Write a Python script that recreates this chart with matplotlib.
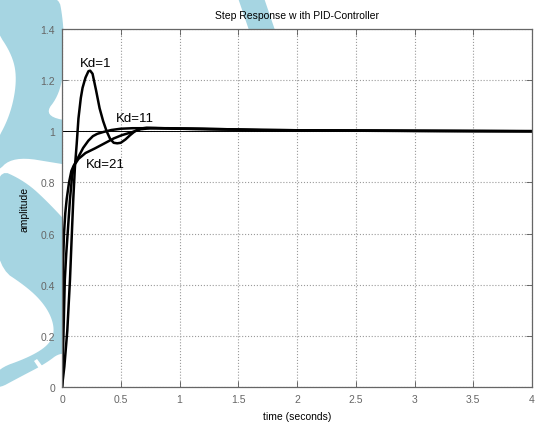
"""Step response of a PID-controlled plant for three derivative gains."""

import matplotlib

matplotlib.use("Agg")
import matplotlib.pyplot as plt
from matplotlib.patches import Polygon

# values
t_kd1 = [0, 0.02, 0.045, 0.068, 0.082, 0.096, 0.11, 0.125, 0.14, 0.16, 0.175, 0.2, 0.225, 0.24,
         0.26, 0.29, 0.32, 0.35, 0.38, 0.41, 0.44, 0.47, 0.5, 0.54, 0.58, 0.62, 0.66, 0.72, 0.8,
         1.0, 1.4, 1.7, 2.4, 4.0]
y_kd1 = [0, 0.08, 0.22, 0.42, 0.58, 0.735, 0.86, 0.95, 1.05, 1.13, 1.17, 1.21, 1.235, 1.237,
         1.225, 1.16, 1.09, 1.04, 1.0, 0.97, 0.955, 0.953, 0.955, 0.968, 0.985, 1.0, 1.01, 1.014,
         1.013, 1.01, 1.008, 1.004, 1.003, 1.0]

t_kd11 = [0, 0.012, 0.024, 0.036, 0.048, 0.068, 0.085, 0.1, 0.115, 0.14, 0.18, 0.224, 0.263,
          0.3, 0.35, 0.42, 0.5, 0.6, 0.8, 1.0, 1.5, 2.0, 3.0, 4.0]
y_kd11 = [0, 0.2, 0.42, 0.52, 0.6, 0.735, 0.82, 0.86, 0.88, 0.9, 0.935, 0.963, 0.981,
          0.99, 0.997, 1.005, 1.01, 1.012, 1.012, 1.01, 1.006, 1.004, 1.002, 1.001]

t_kd21 = [0, 0.005, 0.01, 0.017, 0.028, 0.04, 0.06, 0.08, 0.1, 0.12, 0.14, 0.2, 0.28, 0.35,
          0.44, 0.51, 0.585, 0.67, 0.75, 0.9, 1.2, 1.6, 2.2, 3.0, 4.0]
y_kd21 = [0, 0.3, 0.5, 0.6, 0.68, 0.735, 0.8, 0.845, 0.866, 0.878, 0.892, 0.915, 0.933, 0.95,
          0.972, 0.985, 0.995, 1.008, 1.012, 1.012, 1.01, 1.006, 1.003, 1.001, 1.0]

labels = ["Kd=1", "Kd=11", "Kd=21"]
label_t = [0.283, 0.624, 0.368]
label_y = [1.266, 1.05, 0.871]

x_ticks = [0, 0.5, 1, 1.5, 2, 2.5, 3, 3.5, 4]
y_ticks = [0, 0.2, 0.4, 0.6, 0.8, 1, 1.2, 1.4]

W, H = 539, 427
plt.rcParams["font.family"] = ["Liberation Sans", "DejaVu Sans"]

fig = plt.figure(figsize=(W / 100, H / 100), dpi=100)


def px(points):
    return [(x / W, 1 - y / H) for x, y in points]


def rounded(points, passes=3):
    # chaikin corner cutting, only to soften the decoration outline
    pts = list(points)
    for _ in range(passes):
        out = []
        for i in range(len(pts)):
            (x0, y0), (x1, y1) = pts[i], pts[(i + 1) % len(pts)]
            out.append((0.75 * x0 + 0.25 * x1, 0.75 * y0 + 0.25 * y1))
            out.append((0.25 * x0 + 0.75 * x1, 0.25 * y0 + 0.75 * y1))
        pts = out
    return pts


# light blue background decoration (sits behind the axes)
blue = "#a6d5e2"
upper = [(-6, -6), (58, -6), (63, 20), (65, 60), (60, 95), (43, 117), (80, 124), (80, 168),
         (62, 165), (13, 157), (-6, 176), (-6, 147), (10, 117), (17, 83), (13, 57), (-6, 28)]
lower = [(-6, 168), (25, 182), (50, 205), (80, 238), (80, 362), (62, 352), (45, 365), (20, 378),
         (-6, 392), (-6, 371), (30, 358), (50, 345), (55, 330), (48, 310), (30, 290), (-6, 266)]
top = [(237, -4), (263, -4), (278, 40), (252, 40)]
for shape in (upper, lower):
    fig.patches.append(Polygon(px(rounded(shape)), closed=True, transform=fig.transFigure,
                               facecolor=blue, edgecolor="none", zorder=-1))
fig.patches.append(Polygon(px(top), closed=True, transform=fig.transFigure,
                           facecolor=blue, edgecolor="none", zorder=-1))
fig.patches.append(Polygon(px([(34, 362), (37, 360), (43, 368), (40, 371)]), closed=True,
                           transform=fig.transFigure, facecolor="white", edgecolor="none", zorder=-1))

ax = fig.add_axes([62 / W, 1 - 388 / H, 470 / W, 358 / H])
ax.set_zorder(1)

ax.axhline(1.0, color="black", lw=0.7)
for t, y in ((t_kd1, y_kd1), (t_kd11, y_kd11), (t_kd21, y_kd21)):
    ax.plot(t, y, color="black", lw=1.8, solid_joinstyle="round")
for text, tx, ty in zip(labels, label_t, label_y):
    ax.text(tx, ty, text, fontsize=9.5, ha="center", va="center")

ax.set_xlim(0, 4)
ax.set_ylim(0, 1.4)
ax.set_xticks(x_ticks)
ax.set_xticklabels([f"{v:g}" for v in x_ticks])
ax.set_yticks(y_ticks)
ax.set_yticklabels([f"{v:g}" for v in y_ticks])
ax.grid(True, color="#9a9a9a", linestyle=":", linewidth=0.8)
ax.tick_params(direction="in", length=4, width=0.6, color="#555555", labelcolor="#666666",
               labelsize=7.5, top=True, right=True, pad=5)
for spine in ax.spines.values():
    spine.set_color("#666666")
    spine.set_linewidth(0.9)

ax.set_title("Step Response w ith PID-Controller", fontsize=7.5, pad=8)
ax.set_xlabel("time (seconds)", fontsize=7.5, labelpad=5)
ax.set_ylabel("amplitude", fontsize=7.5, labelpad=8)

fig.savefig("out.png", dpi=100)
